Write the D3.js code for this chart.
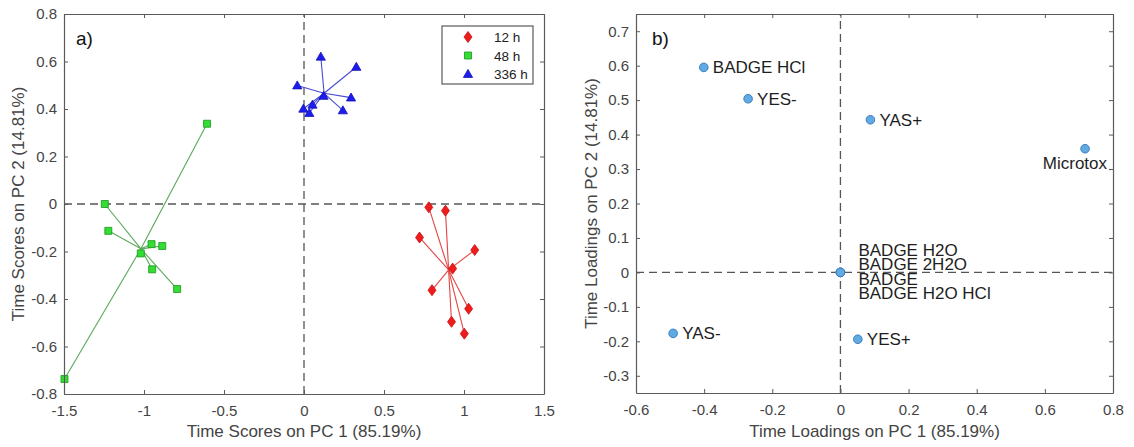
<!DOCTYPE html>
<html>
<head>
<meta charset="utf-8">
<script src="https://cdn.jsdelivr.net/npm/d3@7"></script>
<style>
  body { margin: 0; background: #fff; }
  text { font-family: 'Liberation Sans', Arial, sans-serif; }
</style>
</head>
<body>
<svg id="chart" width="1134" height="447"></svg>
<script>
// ---- data: panel a) scores ----
const groups = ['12 h', '48 h', '336 h'];
const pc1_12h  = [0.780, 0.884, 0.722, 1.067, 0.929, 0.800, 1.029, 0.922, 1.002];
const pc2_12h  = [-0.014, -0.028, -0.141, -0.194, -0.272, -0.363, -0.441, -0.496, -0.546];
const pc1_48h  = [-0.606, -1.497, -1.245, -1.223, -0.953, -0.886, -1.020, -0.949, -0.793];
const pc2_48h  = [0.338, -0.737, 0.000, -0.113, -0.169, -0.177, -0.208, -0.275, -0.358];
const pc1_336h = [0.105, 0.327, -0.042, 0.294, 0.122, 0.243, 0.053, -0.004, 0.033];
const pc2_336h = [0.620, 0.577, 0.499, 0.448, 0.455, 0.394, 0.418, 0.401, 0.383];

// ---- data: panel b) loadings ----
const loadNames = ['BADGE HCl', 'YES-', 'YAS+', 'Microtox', 'BADGE H2O', 'BADGE 2H2O', 'BADGE', 'BADGE H2O HCl', 'YAS-', 'YES+'];
const loadPC1 = [-0.401, -0.271, 0.088, 0.718, 0, 0, 0, 0, -0.491, 0.051];
const loadPC2 = [0.595, 0.504, 0.443, 0.359, 0, 0, 0, 0, -0.177, -0.194];

// ---- tick labels ----
const ticksAx = [-1.5, -1, -0.5, 0, 0.5, 1, 1.5];
const ticksAy = [-0.8, -0.6, -0.4, -0.2, 0, 0.2, 0.4, 0.6, 0.8];
const ticksBx = [-0.6, -0.4, -0.2, 0, 0.2, 0.4, 0.6, 0.8];
const ticksBy = [-0.3, -0.2, -0.1, 0, 0.1, 0.2, 0.3, 0.4, 0.5, 0.6, 0.7];

const svg = d3.select('#chart');
const axisCol = '#5a5a5a';

function drawFrame(g, x, y, w, h, xt, yt){
    const styleAxis = sel => {
        sel.select('.domain').attr('stroke', axisCol).attr('stroke-width', 1.2);
        sel.selectAll('.tick line').attr('stroke', axisCol);
        sel.selectAll('.tick text').attr('fill', '#444').attr('font-size', 15)
            .style('font-family', "'Liberation Sans', Arial, sans-serif");
    };
    g.append('g').attr('transform', `translate(0,${h})`)
        .call(d3.axisBottom(x).tickValues(xt).tickFormat(d => String(d))
            .tickSizeInner(-4).tickSizeOuter(0).tickPadding(11))
        .call(styleAxis);
    g.append('g')
        .call(d3.axisLeft(y).tickValues(yt).tickFormat(d => String(d))
            .tickSizeInner(-4).tickSizeOuter(0).tickPadding(7))
        .call(styleAxis);
    g.append('g')
        .call(d3.axisTop(x).tickValues(xt).tickFormat('').tickSizeInner(-4).tickSizeOuter(0))
        .call(styleAxis);
    g.append('g').attr('transform', `translate(${w},0)`)
        .call(d3.axisRight(y).tickValues(yt).tickFormat('').tickSizeInner(-4).tickSizeOuter(0))
        .call(styleAxis);
}

function zeroLines(g, x, y){
    const [x0, x1] = x.range(), [y0, y1] = y.range();
    g.append('line').attr('x1', x0).attr('x2', x1).attr('y1', y(0)).attr('y2', y(0));
    g.append('line').attr('x1', x(0)).attr('x2', x(0)).attr('y1', y0).attr('y2', y1);
    g.selectAll('line').attr('stroke', '#555').attr('stroke-width', 1.3).attr('stroke-dasharray', '8,5');
}

// marker shapes
const shapes = {
    diamond: 'M0,-5.5L4,0L0,5.5L-4,0Z',
    square: 'M-3.5,-3.5H3.5V3.5H-3.5Z',
    triangle: 'M0,-4.6L4.6,3.4H-4.6Z'
};
const series = [
    {name: groups[0], xs: pc1_12h, ys: pc2_12h, shape: 'diamond', fill: '#f01c1c', stroke: '#c01010', line: '#e64444'},
    {name: groups[1], xs: pc1_48h, ys: pc2_48h, shape: 'square', fill: '#33dd33', stroke: '#1a961a', line: '#5aa85a'},
    {name: groups[2], xs: pc1_336h, ys: pc2_336h, shape: 'triangle', fill: '#1c1cf0', stroke: '#1212b0', line: '#4a4ad6'}
];

// ================= panel a =================
const aW = 480, aH = 380;
const ga = svg.append('g').attr('transform', 'translate(64,14)');
const xa = d3.scaleLinear().domain([-1.5, 1.5]).range([0, aW]);
const ya = d3.scaleLinear().domain([-0.8, 0.8]).range([aH, 0]);

zeroLines(ga.append('g'), xa, ya);

series.forEach(s => {
    const pts = s.xs.map((v, i) => ({x: v, y: s.ys[i]}));
    const cx = d3.mean(s.xs), cy = d3.mean(s.ys);
    ga.append('g').selectAll('line').data(pts).enter().append('line')
        .attr('x1', xa(cx)).attr('y1', ya(cy))
        .attr('x2', d => xa(d.x)).attr('y2', d => ya(d.y))
        .attr('stroke', s.line).attr('stroke-width', 1.1);
});
series.forEach(s => {
    const pts = s.xs.map((v, i) => ({x: v, y: s.ys[i]}));
    ga.append('g').selectAll('path').data(pts).enter().append('path')
        .attr('d', shapes[s.shape])
        .attr('transform', d => `translate(${xa(d.x)},${ya(d.y)})`)
        .attr('fill', s.fill).attr('stroke', s.stroke).attr('stroke-width', 0.8);
});

drawFrame(ga, xa, ya, aW, aH, ticksAx, ticksAy);

ga.append('text').attr('x', 12).attr('y', 31).attr('font-size', 19).attr('fill', '#111').text('a)');

// legend
const leg = ga.append('g').attr('transform', 'translate(378,12)');
leg.append('rect').attr('width', 91).attr('height', 58)
    .attr('fill', '#fff').attr('stroke', axisCol).attr('stroke-width', 1.2);
series.forEach((s, i) => {
    const yy = 11 + i * 18.5;
    leg.append('path').attr('d', shapes[s.shape]).attr('transform', `translate(26,${yy})`)
        .attr('fill', s.fill).attr('stroke', s.stroke).attr('stroke-width', 0.8);
    leg.append('text').attr('x', 52).attr('y', yy + 5).attr('font-size', 13.5).attr('fill', '#222').text(s.name);
});

svg.append('text').attr('x', 64 + aW / 2).attr('y', 437).attr('text-anchor', 'middle')
    .attr('font-size', 17).attr('fill', '#444').text('Time Scores on PC 1 (85.19%)');
svg.append('text').attr('transform', `translate(24,${14 + aH / 2}) rotate(-90)`).attr('text-anchor', 'middle')
    .attr('font-size', 17).attr('fill', '#444').text('Time Scores on PC 2 (14.81%)');

// ================= panel b =================
const bW = 477, bH = 379;
const gb = svg.append('g').attr('transform', 'translate(636,14)');
const xb = d3.scaleLinear().domain([-0.6, 0.8]).range([0, bW]);
const yb = d3.scaleLinear().domain([-0.35, 0.75]).range([bH, 0]);

zeroLines(gb.append('g'), xb, yb);

const loads = loadNames.map((n, i) => ({name: n, x: loadPC1[i], y: loadPC2[i]}));

// label placement (style only): default to the right of the marker
const stackOffset = {'BADGE H2O': -16.6, 'BADGE 2H2O': -2.3, 'BADGE': 12.7, 'BADGE H2O HCl': 27};
gb.append('g').selectAll('text').data(loads).enter().append('text')
    .attr('font-size', 17).attr('fill', '#1e1e1e')
    .attr('text-anchor', d => d.name === 'Microtox' ? 'end' : 'start')
    .attr('x', d => {
        if (d.name === 'Microtox') return xb(d.x) + 22;
        if (d.name in stackOffset) return xb(d.x) + 18;
        return xb(d.x) + 9;
    })
    .attr('y', d => {
        if (d.name === 'Microtox') return yb(d.y) + 20;
        if (d.name in stackOffset) return yb(d.y) + stackOffset[d.name];
        return yb(d.y) + 6;
    })
    .text(d => d.name);

gb.append('g').selectAll('circle').data(loads).enter().append('circle')
    .attr('cx', d => xb(d.x)).attr('cy', d => yb(d.y)).attr('r', 4.3)
    .attr('fill', '#62aae2').attr('stroke', '#3a7ec2').attr('stroke-width', 1);

drawFrame(gb, xb, yb, bW, bH, ticksBx, ticksBy);

gb.append('text').attr('x', 16).attr('y', 31).attr('font-size', 19).attr('fill', '#111').text('b)');

svg.append('text').attr('x', 636 + bW / 2).attr('y', 437).attr('text-anchor', 'middle')
    .attr('font-size', 17).attr('fill', '#444').text('Time Loadings on PC 1 (85.19%)');
svg.append('text').attr('transform', `translate(597,${14 + bH / 2}) rotate(-90)`).attr('text-anchor', 'middle')
    .attr('font-size', 17).attr('fill', '#444').text('Time Loadings on PC 2 (14.81%)');
</script>
</body>
</html>
